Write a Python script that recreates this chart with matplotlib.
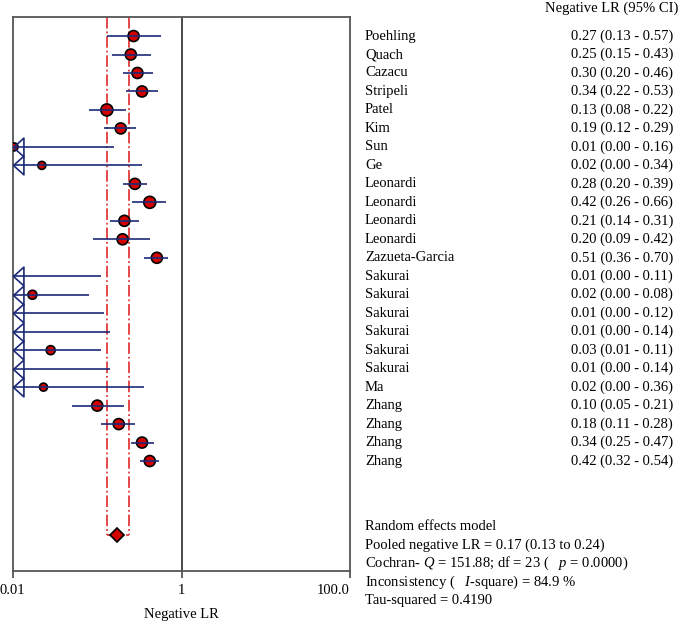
import numpy as np
import matplotlib
matplotlib.use("Agg")
import matplotlib.pyplot as plt
import matplotlib.transforms as mtransforms
from matplotlib.path import Path

plt.rcParams["font.family"] = "Liberation Serif"
plt.rcParams["mathtext.fontset"] = "custom"
plt.rcParams["mathtext.rm"] = "Liberation Serif"
plt.rcParams["mathtext.it"] = "Liberation Serif:italic"

studies = ["Poehling", "Quach", "Cazacu", "Stripeli", "Patel", "Kim", "Sun", "Ge",
           "Leonardi", "Leonardi", "Leonardi", "Leonardi", "Zazueta-Garcia",
           "Sakurai", "Sakurai", "Sakurai", "Sakurai", "Sakurai", "Sakurai", "Ma",
           "Zhang", "Zhang", "Zhang", "Zhang"]
ci_text = ["0.27 (0.13 - 0.57)", "0.25 (0.15 - 0.43)", "0.30 (0.20 - 0.46)",
           "0.34 (0.22 - 0.53)", "0.13 (0.08 - 0.22)", "0.19 (0.12 - 0.29)",
           "0.01 (0.00 - 0.16)", "0.02 (0.00 - 0.34)", "0.28 (0.20 - 0.39)",
           "0.42 (0.26 - 0.66)", "0.21 (0.14 - 0.31)", "0.20 (0.09 - 0.42)",
           "0.51 (0.36 - 0.70)", "0.01 (0.00 - 0.11)", "0.02 (0.00 - 0.08)",
           "0.01 (0.00 - 0.12)", "0.01 (0.00 - 0.14)", "0.03 (0.01 - 0.11)",
           "0.01 (0.00 - 0.14)", "0.02 (0.00 - 0.36)", "0.10 (0.05 - 0.21)",
           "0.18 (0.11 - 0.28)", "0.34 (0.25 - 0.47)", "0.42 (0.32 - 0.54)"]
# point estimates (hidden ones sit below 0.01)
lr = [0.27, 0.25, 0.30, 0.34, 0.13, 0.19, 0.0103, 0.022, 0.28, 0.42, 0.21, 0.20,
      0.51, 0.005, 0.017, 0.005, 0.005, 0.028, 0.005, 0.023, 0.10, 0.18, 0.34, 0.42]
lo = [0.13, 0.15, 0.20, 0.22, 0.08, 0.12, 0.0, 0.0, 0.20, 0.26, 0.14, 0.09,
      0.36, 0.0, 0.0, 0.0, 0.0, 0.008, 0.0, 0.0, 0.05, 0.11, 0.25, 0.32]
hi = [0.57, 0.43, 0.46, 0.53, 0.22, 0.29, 0.16, 0.34, 0.39, 0.66, 0.31, 0.42,
      0.70, 0.11, 0.08, 0.12, 0.14, 0.11, 0.14, 0.36, 0.21, 0.28, 0.47, 0.54]
marker_px = [11, 11, 11, 11, 12, 11, 8, 8, 11, 12, 11, 11,
             11, 9, 9, 9, 9, 9, 9, 8, 11, 11, 11, 11]

pooled = 0.17
pooled_lo = 0.13
pooled_hi = 0.24
pooled_row = 27

summary = ["Random effects model",
           "Pooled negative LR = 0.17 (0.13 to 0.24)",
           "Cochran- $Q$ = 151.88; df = 23 (   $p$ = 0.0000)",
           "Inconsistency (   $I$-square) = 84.9 %",
           "Tau-squared = 0.4190"]

navy = "#1c2a78"
red = "#d40000"
xmin, xmax = 0.01, 100

W, H = 682, 623
fig = plt.figure(figsize=(W / 100, H / 100), dpi=100)
ax = fig.add_axes([13 / W, 1 - 571 / H, 337 / W, 554 / H])
ax.set_xscale("log")
ax.set_xlim(xmin, xmax)
ax.set_ylim(28.95, -1.03)

rows = np.arange(len(studies))
lr = np.array(lr)
lo = np.array(lo)
hi = np.array(hi)

# pooled CI bounds as dash-dot lines
ax.vlines([pooled_lo, pooled_hi], -1.03, pooled_row, colors="#e03a3a",
          linestyles="-.", linewidth=1.3, zorder=1)
ax.hlines(pooled_row, pooled_lo, pooled_hi, colors="#e03a3a",
          linestyles="--", linewidth=1.3, zorder=1)
ax.axvline(1, color="#3a3a3a", linewidth=1.3, zorder=1)

s = (np.array(marker_px) / 1.389) ** 2
ax.scatter(lr, rows, s=s, color=red, edgecolors="black", linewidths=1.2, zorder=3)
ax.hlines(rows, np.maximum(lo, xmin), hi, colors=navy, linewidth=1.2, zorder=4)

arrow = Path([(0, 0), (1, 0.9), (1, -0.9), (0, 0)],
             [Path.MOVETO, Path.LINETO, Path.LINETO, Path.CLOSEPOLY])
cut = lo < xmin
ax.plot(np.full(cut.sum(), xmin), rows[cut], linestyle="none", marker=arrow,
        markersize=15, markerfacecolor="none", markeredgecolor=navy,
        markeredgewidth=1.2, clip_on=False, zorder=5)

ax.plot([pooled], [pooled_row], marker="D", markersize=7, color=red,
        markeredgecolor="black", markeredgewidth=1.2, zorder=5)

for sp in ax.spines.values():
    sp.set_color("#555555")
    sp.set_linewidth(1.3)
ax.set_yticks([])
ax.set_xticks([0.01, 1, 100])
ax.set_xticks([], minor=True)
ax.set_xticklabels(["0.01", "1", "100.0"], fontsize=10.5)
ax.tick_params(axis="x", direction="out", length=5, width=1.3, color="#555555", pad=4)
labels = ax.get_xticklabels()
labels[0].set_ha("left")
labels[0].set_transform(labels[0].get_transform() +
                        mtransforms.ScaledTranslation(-13 / 100, 0, fig.dpi_scale_trans))
labels[2].set_ha("right")
ax.set_xlabel("Negative LR", fontsize=10.5, labelpad=8)

tr = mtransforms.blended_transform_factory(fig.transFigure, ax.transData)
for i, (name, txt) in enumerate(zip(studies, ci_text)):
    ax.text(365 / W, i, name, transform=tr, ha="left", va="center", fontsize=10.5,
            clip_on=False)
    ax.text(673 / W, i, txt, transform=tr, ha="right", va="center", fontsize=10.5,
            clip_on=False)
fig.text(545 / W, 1 - 8 / H, "Negative LR (95% CI)", ha="left", va="center", fontsize=10.5)

for k, line in enumerate(summary):
    fig.text(365 / W, 1 - (527 + 18.3 * k) / H, line, ha="left", va="center", fontsize=10.5)

fig.savefig("out.png", dpi=100)
